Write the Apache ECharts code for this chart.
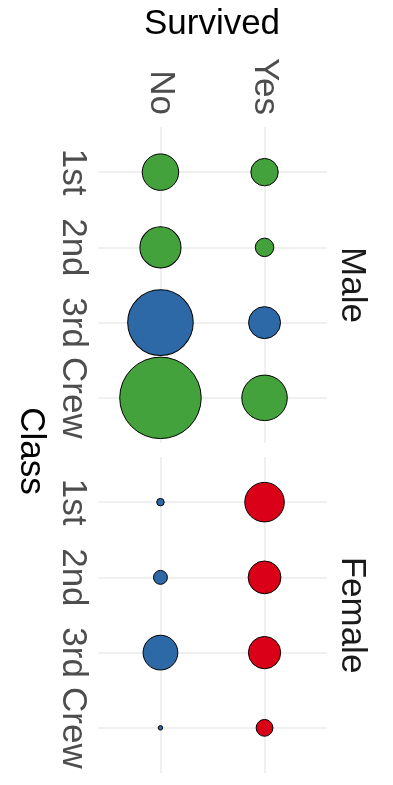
<!DOCTYPE html>
<html>
<head>
<meta charset="utf-8">
<script src="https://cdn.jsdelivr.net/npm/echarts@6/dist/echarts.min.js"></script>
<style>html,body{margin:0;padding:0;background:#fff}#c{width:393px;height:785px}</style>
</head>
<body>
<div id="c"></div>
<script>
const classes = ['1st', '2nd', '3rd', 'Crew'];
const survived = ['No', 'Yes'];
const sexes = ['Male', 'Female'];
const maleNo = [118, 154, 422, 670];
const maleYes = [62, 25, 88, 192];
const femaleNo = [4, 13, 106, 3];
const femaleYes = [141, 93, 90, 20];
const maleNoGroup = ['A', 'A', 'B', 'A'];
const maleYesGroup = ['A', 'A', 'B', 'A'];
const femaleNoGroup = ['B', 'B', 'B', 'B'];
const femaleYesGroup = ['C', 'C', 'C', 'C'];

const palette = { A: '#43A23B', B: '#2D69A6', C: '#D90018' };
const FONT = 'Liberation Sans, Arial, Helvetica, sans-serif';

function build(noVals, yesVals, noGrp, yesGrp) {
  const out = [];
  classes.forEach((c, i) => {
    out.push([0, i, noVals[i], noGrp[i]]);
    out.push([1, i, yesVals[i], yesGrp[i]]);
  });
  return out;
}
const maleData = build(maleNo, maleYes, maleNoGroup, maleYesGroup);
const femaleData = build(femaleNo, femaleYes, femaleNoGroup, femaleYesGroup);
const allVals = maleNo.concat(maleYes, femaleNo, femaleYes);
const vMin = Math.min.apply(null, allVals);
const vMax = Math.max.apply(null, allVals);
function sizeOf(v) { return 4.5 + 77 * Math.sqrt((v - vMin) / (vMax - vMin)); }

const gridLine = { show: true, lineStyle: { color: '#EBEBEB', width: 1.5 } };
function xAx(gi, showLabels) {
  return {
    type: 'value', gridIndex: gi, min: -0.6, max: 1.6, position: 'top',
    axisLine: { show: false },
    axisTick: { show: false, customValues: [0, 1] },
    splitLine: gridLine,
    axisLabel: {
      show: showLabels, customValues: [0, 1], rotate: -90, margin: 12,
      formatter: v => survived[Math.round(v)],
      fontSize: 35, color: '#4D4D4D', fontFamily: FONT
    }
  };
}
function yAx(gi) {
  return {
    type: 'value', gridIndex: gi, min: -0.6, max: 3.6, inverse: true,
    axisLine: { show: false },
    axisTick: { show: false, customValues: [0, 1, 2, 3] },
    splitLine: gridLine,
    axisLabel: {
      customValues: [0, 1, 2, 3], rotate: -90, margin: 8,
      formatter: v => classes[Math.round(v)],
      fontSize: 35, color: '#4D4D4D', fontFamily: FONT
    }
  };
}
function ser(gi, data) {
  return {
    type: 'scatter', xAxisIndex: gi, yAxisIndex: gi, data: data,
    symbol: 'circle',
    symbolSize: d => sizeOf(d[2]),
    itemStyle: {
      color: p => palette[p.data[3]],
      borderColor: '#000', borderWidth: 1, opacity: 1
    },
    emphasis: { disabled: true }
  };
}

const chart = echarts.init(document.getElementById('c'), null, { renderer: 'canvas' });
chart.setOption({
  animation: false,
  backgroundColor: '#fff',
  grid: [
    { left: 98, right: 66, top: 127, height: 316 },
    { left: 98, right: 66, top: 457, height: 316 }
  ],
  xAxis: [xAx(0, true), xAx(1, false)],
  yAxis: [yAx(0), yAx(1)],
  series: [ser(0, maleData), ser(1, femaleData)],
  graphic: [
    { type: 'text', x: 212, y: 24, style: { text: 'Survived', fontSize: 35, fontFamily: FONT, fill: '#000', align: 'center', verticalAlign: 'middle' } },
    { type: 'text', x: 31, y: 451, rotation: -Math.PI / 2, style: { text: 'Class', fontSize: 35, fontFamily: FONT, fill: '#000', align: 'center', verticalAlign: 'middle' } },
    { type: 'text', x: 352, y: 285, rotation: -Math.PI / 2, style: { text: sexes[0], fontSize: 35, fontFamily: FONT, fill: '#1A1A1A', align: 'center', verticalAlign: 'middle' } },
    { type: 'text', x: 352, y: 615, rotation: -Math.PI / 2, style: { text: sexes[1], fontSize: 35, fontFamily: FONT, fill: '#1A1A1A', align: 'center', verticalAlign: 'middle' } }
  ]
});
</script>
</body>
</html>
